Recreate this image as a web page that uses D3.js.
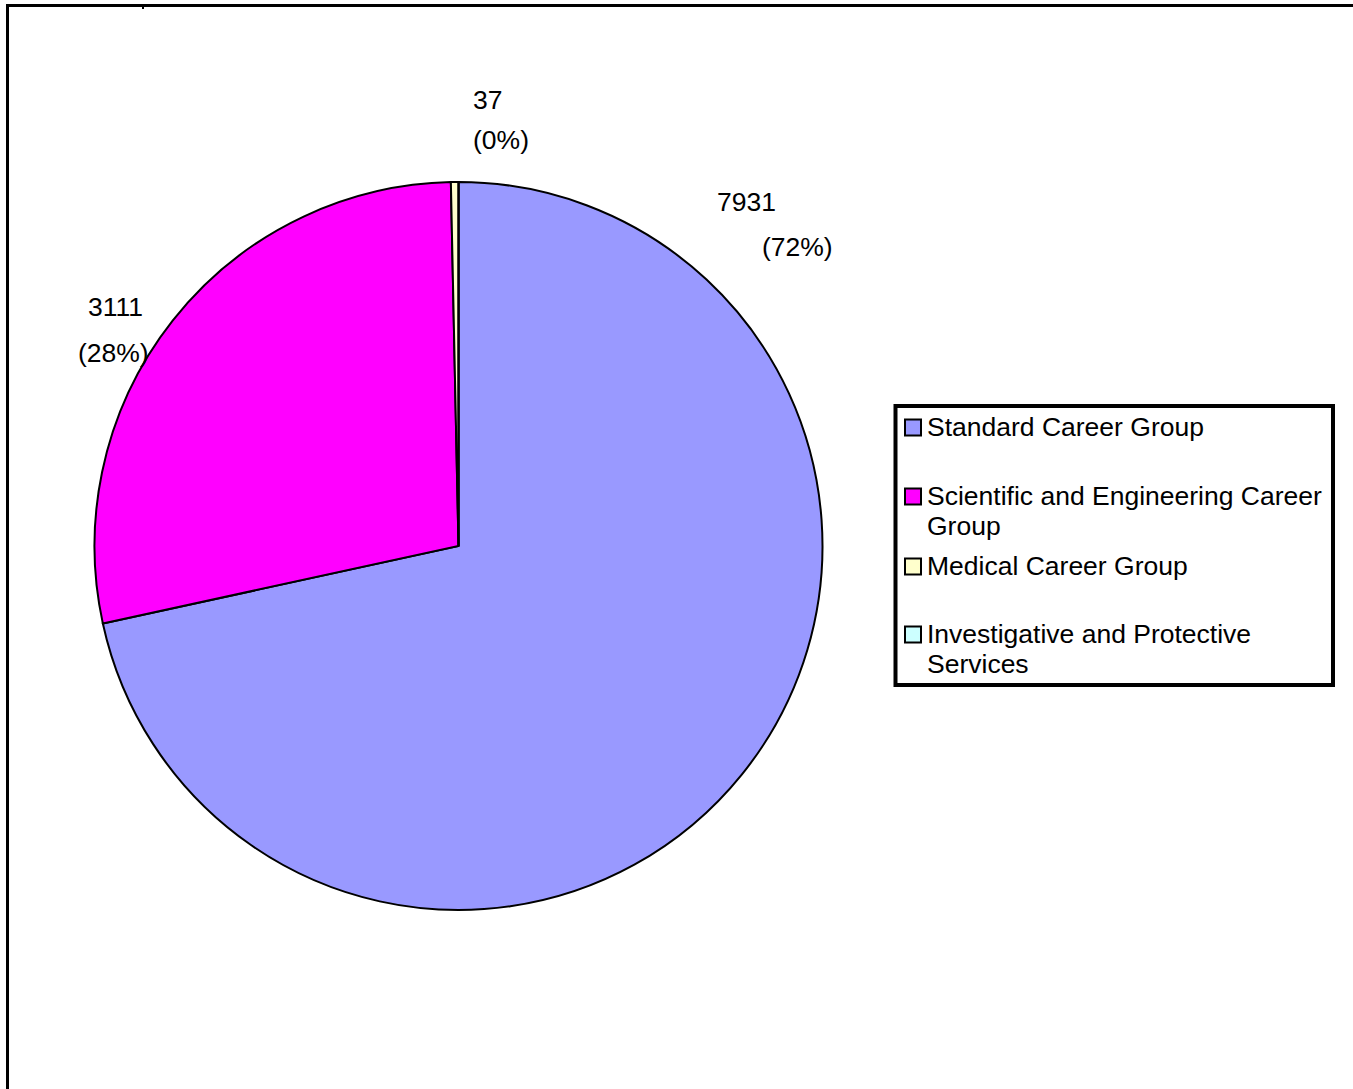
<!DOCTYPE html>
<html>
<head>
<meta charset="utf-8">
<script src="https://cdn.jsdelivr.net/npm/d3@7"></script>
<style>
  html, body { margin: 0; padding: 0; background: #fff; }
  svg { display: block; }
  text { font-family: "Liberation Sans", Arial, sans-serif; fill: #000; }
</style>
</head>
<body>
<svg id="chart" width="1353" height="1089"></svg>
<script>
// ---- data ----
const categories = [
  "Standard Career Group",
  "Scientific and Engineering Career Group",
  "Medical Career Group",
  "Investigative and Protective Services"
];
const values = [7931, 3111, 37, 0];
const colors = ["#9999FF", "#FF00FF", "#FFFFCC", "#CCFFFF"];
const legendLines = [
  ["Standard Career Group"],
  ["Scientific and Engineering Career", "Group"],
  ["Medical Career Group"],
  ["Investigative and Protective", "Services"]
];

// ---- layout (not data) ----
const cx = 458.5, cy = 546, R = 364;
const fontSize = 26.5;
// label anchor placement (manually positioned in the original), per slice index
const labelLayout = [
  { i: 0, valX: 717, valY: 211, pctX: 762, pctY: 256 },
  { i: 1, valX: 88,  valY: 316, pctX: 78,  pctY: 362 },
  { i: 2, valX: 473, valY: 109, pctX: 473, pctY: 149 }
];
const legendRows = [436, 505, 575, 643];

const svg = d3.select("#chart");

// outer frame (left and top edges visible)
svg.append("line").attr("x1", 7.5).attr("y1", 4).attr("x2", 7.5).attr("y2", 1089)
  .attr("stroke", "#000").attr("stroke-width", 3);
svg.append("line").attr("x1", 6).attr("y1", 5.5).attr("x2", 1353).attr("y2", 5.5)
  .attr("stroke", "#000").attr("stroke-width", 3);
svg.append("rect").attr("x", 142).attr("y", 7).attr("width", 2).attr("height", 2).attr("fill", "#000");

// pie
const total = d3.sum(values);
const pie = d3.pie().sort(null).value(d => d)(values);
const arc = d3.arc().innerRadius(0).outerRadius(R);
const g = svg.append("g").attr("transform", `translate(${cx},${cy})`);
g.selectAll("path").data(pie).join("path")
  .attr("d", arc)
  .attr("fill", (d, i) => colors[i])
  .attr("stroke", "#000")
  .attr("stroke-width", 2)
  .attr("stroke-linejoin", "miter");

// labels
const fmtPct = v => "(" + Math.round(v / total * 100) + "%)";
labelLayout.forEach(l => {
  svg.append("text").attr("x", l.valX).attr("y", l.valY)
    .attr("font-size", fontSize).text(values[l.i]);
  svg.append("text").attr("x", l.pctX).attr("y", l.pctY)
    .attr("font-size", fontSize).text(fmtPct(values[l.i]));
});

// legend
svg.append("rect").attr("x", 895.5).attr("y", 406).attr("width", 437.5).attr("height", 279)
  .attr("fill", "#fff").attr("stroke", "#000").attr("stroke-width", 4);
categories.forEach((c, i) => {
  const by = legendRows[i];
  svg.append("rect").attr("x", 905).attr("y", by - 16.5).attr("width", 16).attr("height", 16)
    .attr("fill", colors[i]).attr("stroke", "#000").attr("stroke-width", 2);
  legendLines[i].forEach((t, k) => {
    svg.append("text").attr("x", 927).attr("y", by + k * 30)
      .attr("font-size", fontSize).text(t);
  });
});
</script>
</body>
</html>
